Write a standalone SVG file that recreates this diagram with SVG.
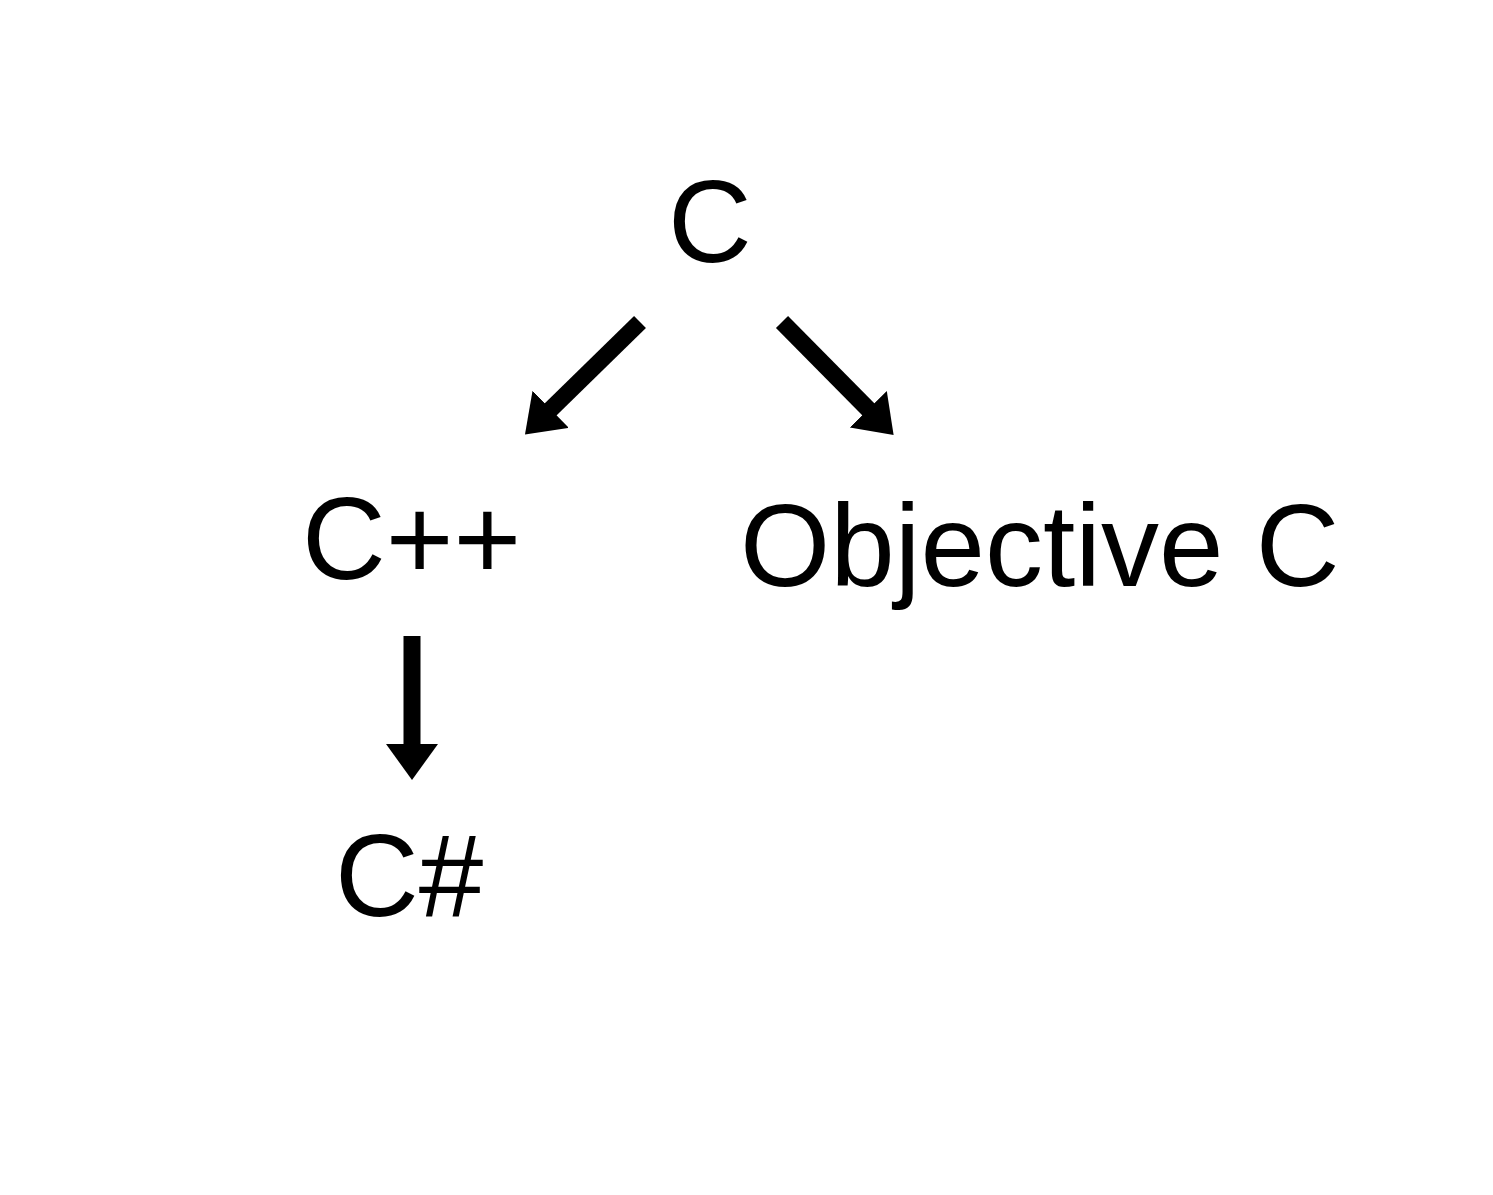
<svg xmlns="http://www.w3.org/2000/svg" width="1493" height="1195" viewBox="0 0 1493 1195">
<style>
.lbl{font-family:"Liberation Sans",Arial,sans-serif;font-size:116px;fill:#000}
.arr{stroke:#000;stroke-width:17;fill:none}
</style>
<defs>
<marker id="ah" markerUnits="userSpaceOnUse" markerWidth="40" markerHeight="54" refX="1" refY="26" orient="auto" viewBox="0 0 40 54">
<path d="M0,0 L36,26 L0,52 z" fill="#000"/>
</marker>
</defs>
<rect width="1493" height="1195" fill="#fff"/>
<g id="connectors">
<line class="arr" x1="640" y1="322" x2="550" y2="410" marker-end="url(#ah)"/>
<line class="arr" x1="782" y1="322" x2="869" y2="410" marker-end="url(#ah)"/>
<line class="arr" x1="412" y1="636" x2="412" y2="745" marker-end="url(#ah)"/>
</g>
<g id="node-c"><text class="lbl" x="710" y="262" text-anchor="middle">C</text></g>
<g id="node-cpp"><text class="lbl" x="302" y="579">C++</text></g>
<g id="node-objc"><text class="lbl" x="740" y="586">Objective C</text></g>
<g id="node-csharp"><text class="lbl" x="335" y="916">C#</text></g>
</svg>
